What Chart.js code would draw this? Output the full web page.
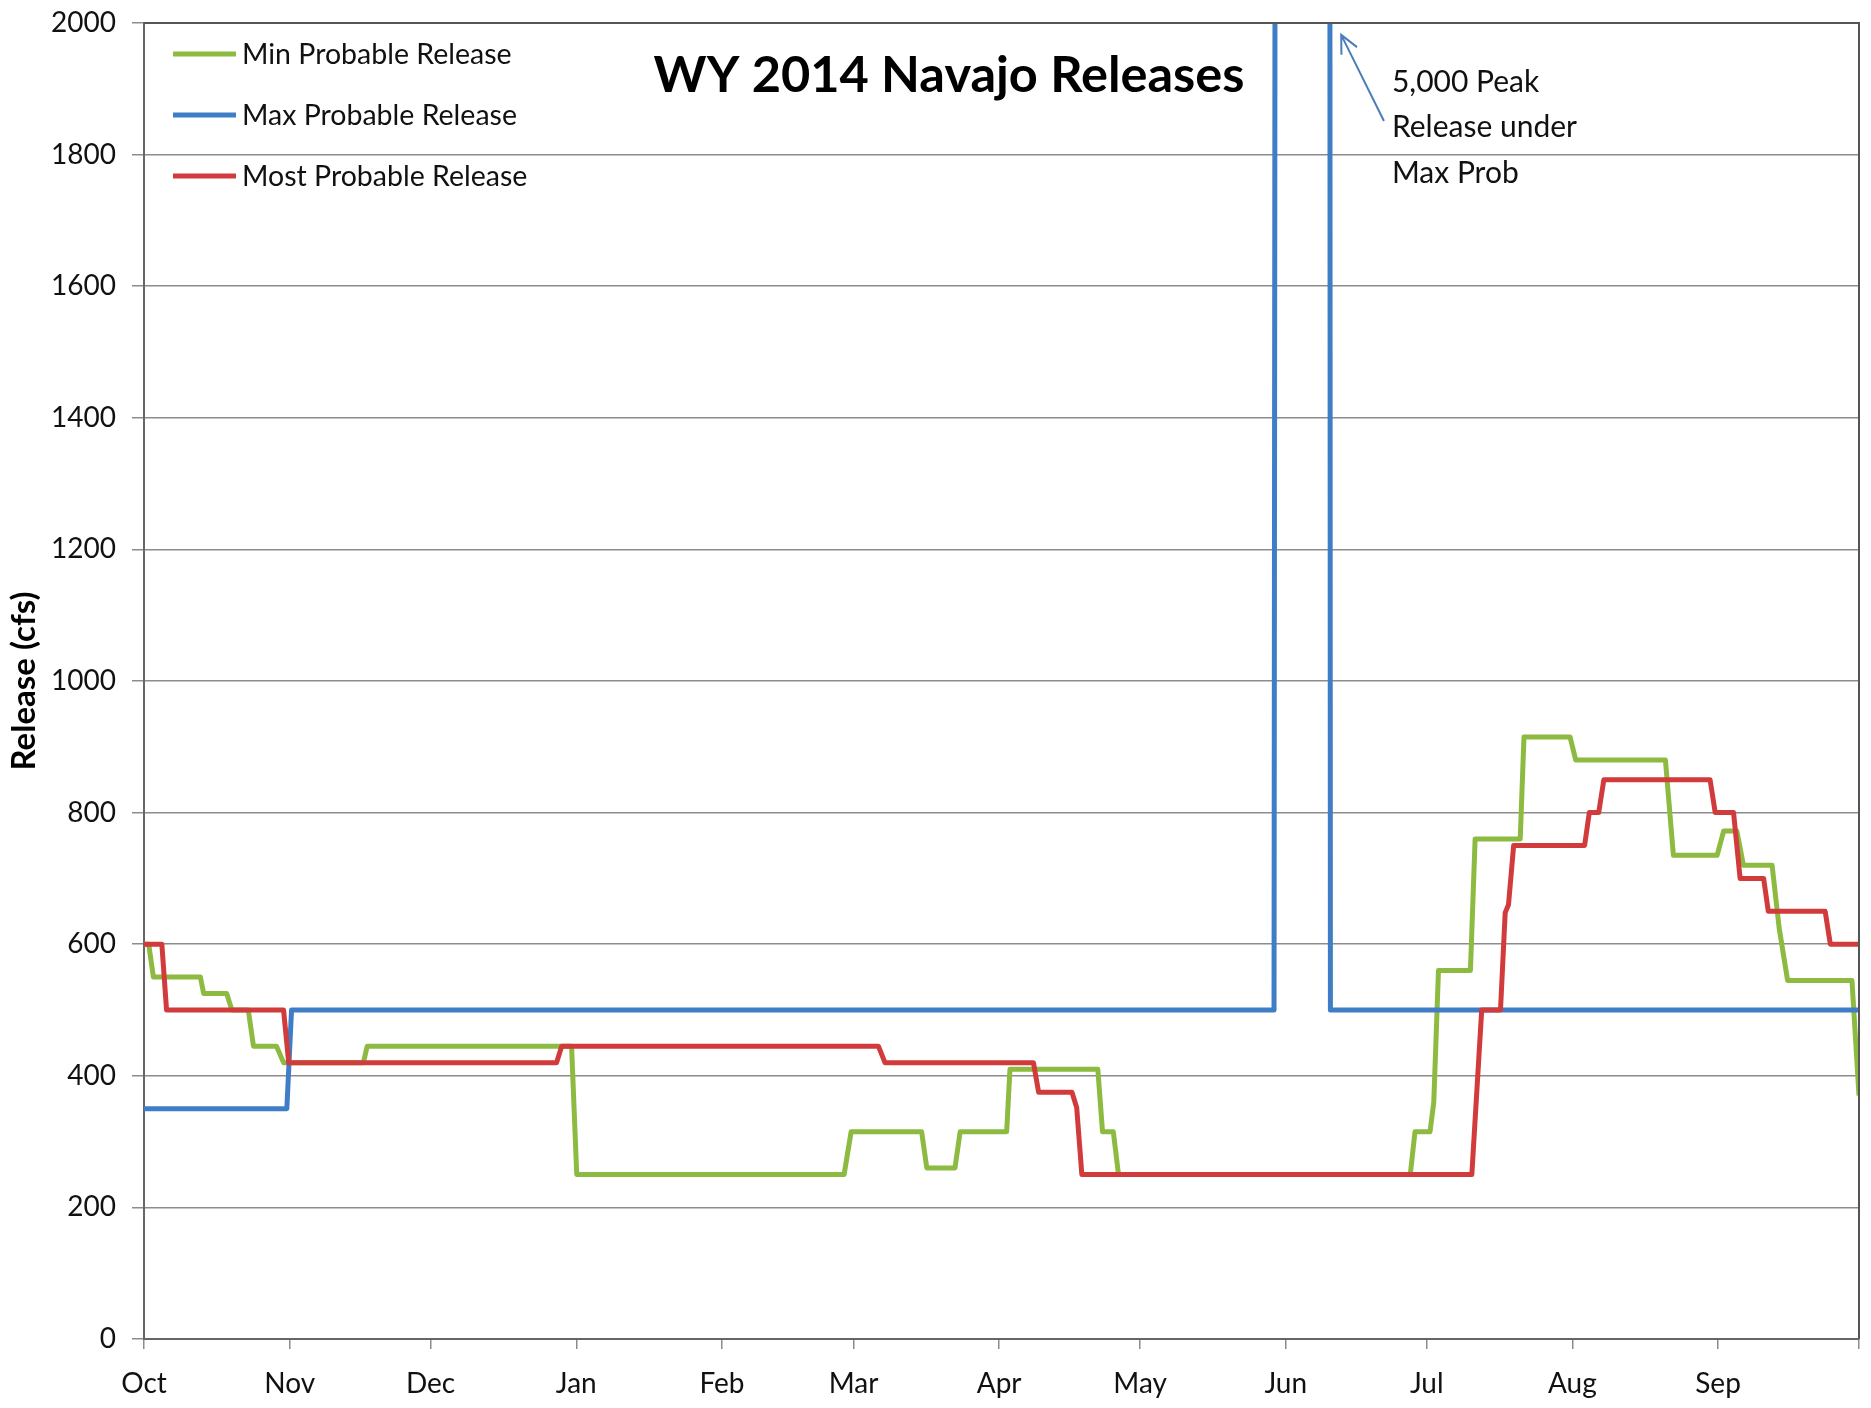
<!DOCTYPE html>
<html>
<head>
<meta charset="utf-8">
<title>WY 2014 Navajo Releases</title>
<script src="https://cdn.jsdelivr.net/npm/chart.js@4.4.1/dist/chart.umd.min.js"></script>
<style>
    html, body { margin: 0; padding: 0; background: #fff; }
    #wrap { width: 1871px; height: 1408px; position: relative; }
</style>
</head>
<body>
<div id="wrap"><canvas id="js--chart"></canvas></div>
<script>
// x axis = days since 1 Oct 2013 (water year 2014)
const monthLabels = ["Oct", "Nov", "Dec", "Jan", "Feb", "Mar", "Apr", "May", "Jun", "Jul", "Aug", "Sep"];
const monthStartDays = [0, 31, 61, 92, 123, 151, 182, 212, 243, 273, 304, 335, 365];
const yTickValues = [0, 200, 400, 600, 800, 1000, 1200, 1400, 1600, 1800, 2000];

// Min Probable Release (cfs) at each change
const minDays = [0, 1, 2, 12, 12.7, 17.6, 18.7, 22.2, 23.3, 28.2, 29.7, 46.7, 47.5, 91, 92.1,
    149, 150.5, 165.5, 166.6, 172.6, 173.7, 183.6, 184.3, 203, 204, 206.3, 207.4,
    269.5, 270.5, 273.7, 274.5, 275.5, 282.3, 283.3, 292.9, 293.7, 303.5, 304.7,
    323.8, 325.5, 334.8, 336.2, 339, 340.4, 346.5, 348, 349.8, 363.5, 365];
const minValues = [600, 600, 550, 550, 525, 525, 500, 500, 445, 445, 420, 420, 445, 445, 250,
    250, 315, 315, 260, 260, 315, 315, 410, 410, 315, 315, 250,
    250, 315, 315, 360, 560, 560, 760, 760, 915, 915, 880,
    880, 735, 735, 772, 772, 720, 720, 625, 545, 545, 370];

// Max Probable Release (cfs) - peak of 5,000 runs off the top
const maxDays = [0, 30.4, 31.4, 240.5, 241.1, 252.2, 252.5, 365];
const maxValues = [350, 350, 500, 500, 5000, 5000, 500, 500];

// Most Probable Release (cfs)
const mostDays = [0, 3.8, 4.8, 29.7, 30.8, 87.8, 88.9, 156.3, 157.7, 189.3, 190.4, 197.5, 198.5, 199.6,
    282.6, 284.7, 288.7, 289.7, 290.4, 291.5, 306.6, 307.6, 309.6, 310.7, 333.3, 334.4,
    338.3, 339.7, 344.7, 345.7, 357.8, 358.9, 365];
const mostValues = [600, 600, 500, 500, 420, 420, 445, 445, 420, 420, 375, 375, 352, 250,
    250, 500, 500, 648, 660, 750, 750, 800, 800, 850, 850, 800,
    800, 700, 700, 650, 650, 600, 600];

const seriesNames = ["Min Probable Release", "Max Probable Release", "Most Probable Release"];
const seriesColors = ["#8DBA40", "#3F7EC6", "#D23B3B"];

// where the note about the 5,000 peak sits (in axis units)
const noteLines = ["5,000 Peak", "Release under", "Max Prob"];
const noteDay = 265.6;
const noteValues = [1910, 1842, 1772];
const arrowFrom = { x: 263.9, y: 1851 };
const arrowTo = { x: 254.8, y: 1982 };

function toPoints(days, values) {
    return days.map(function (d, i) { return { x: d, y: values[i] }; });
}

const FONT = "Lato";

const decorations = {
    id: "decorations",
    afterDatasetsDraw(chart) {
        const ctx = chart.ctx;
        const a = chart.chartArea;
        const xs = chart.scales.x;
        const ys = chart.scales.y;
        ctx.save();

        // frame on top and right
        ctx.strokeStyle = "#555";
        ctx.lineWidth = 2;
        ctx.beginPath();
        ctx.moveTo(a.left, a.top);
        ctx.lineTo(a.right, a.top);
        ctx.lineTo(a.right, a.bottom);
        ctx.stroke();

        // legend, top left inside the plot
        ctx.font = "28.5px " + FONT;
        ctx.textBaseline = "middle";
        ctx.textAlign = "left";
        for (let i = 0; i < seriesNames.length; i++) {
            const y = a.top + 31 + i * 61;
            ctx.strokeStyle = seriesColors[i];
            ctx.lineWidth = 5;
            ctx.beginPath();
            ctx.moveTo(a.left + 29, y);
            ctx.lineTo(a.left + 92, y);
            ctx.stroke();
            ctx.fillStyle = "#111";
            ctx.fillText(seriesNames[i], a.left + 98, y + 1);
        }

        // title
        ctx.font = "bold 50.5px " + FONT;
        ctx.textAlign = "center";
        ctx.fillStyle = "#000";
        ctx.fillText("WY 2014 Navajo Releases", a.left + 805, a.top + 53);

        // note + arrow
        ctx.font = "30px " + FONT;
        ctx.textAlign = "left";
        ctx.fillStyle = "#111";
        noteLines.forEach(function (t, i) {
            ctx.fillText(t, xs.getPixelForValue(noteDay), ys.getPixelForValue(noteValues[i]));
        });
        const x1 = xs.getPixelForValue(arrowFrom.x), y1 = ys.getPixelForValue(arrowFrom.y);
        const x2 = xs.getPixelForValue(arrowTo.x), y2 = ys.getPixelForValue(arrowTo.y);
        const ang = Math.atan2(y2 - y1, x2 - x1);
        ctx.strokeStyle = "#4A7EBB";
        ctx.lineWidth = 2;
        ctx.beginPath();
        ctx.moveTo(x1, y1);
        ctx.lineTo(x2, y2);
        ctx.moveTo(x2 - 20 * Math.cos(ang - 0.45), y2 - 20 * Math.sin(ang - 0.45));
        ctx.lineTo(x2, y2);
        ctx.lineTo(x2 - 20 * Math.cos(ang + 0.45), y2 - 20 * Math.sin(ang + 0.45));
        ctx.stroke();

        ctx.restore();
    }
};

const data = {
    datasets: [
        {
            label: seriesNames[0],
            data: toPoints(minDays, minValues),
            borderColor: seriesColors[0],
            order: 3
        },
        {
            label: seriesNames[1],
            data: toPoints(maxDays, maxValues),
            borderColor: seriesColors[1],
            order: 2
        },
        {
            label: seriesNames[2],
            data: toPoints(mostDays, mostValues),
            borderColor: seriesColors[2],
            order: 1
        }
    ]
};

const config = {
    type: "line",
    data: data,
    options: {
        responsive: true,
        maintainAspectRatio: false,
        animation: false,
        devicePixelRatio: 1,
        layout: { padding: { top: 23, right: 12, left: 0, bottom: 0 } },
        elements: {
            point: { radius: 0, hoverRadius: 0 },
            line: { borderWidth: 5, tension: 0, borderJoinStyle: "round", fill: false }
        },
        plugins: {
            legend: { display: false },
            tooltip: { enabled: false }
        },
        scales: {
            x: {
                type: "linear",
                min: 0,
                max: 365,
                afterBuildTicks: function (scale) {
                    scale.ticks = monthStartDays.map(function (v) { return { value: v }; });
                },
                afterFit: function (scale) {
                    scale.height = 69;
                    scale.paddingLeft = 0;
                    scale.paddingRight = 0;
                },
                grid: { drawOnChartArea: false, drawTicks: true, tickLength: 10, color: "#8c8c8c", lineWidth: 1.5 },
                border: { color: "#666", width: 2 },
                ticks: {
                    autoSkip: false,
                    maxRotation: 0,
                    padding: 18,
                    color: "#111",
                    font: { family: FONT, size: 28 },
                    callback: function (value) {
                        const i = monthStartDays.indexOf(value);
                        return (i >= 0 && i < monthLabels.length) ? monthLabels[i] : "";
                    }
                }
            },
            y: {
                min: 0,
                max: 2000,
                afterBuildTicks: function (scale) {
                    scale.ticks = yTickValues.map(function (v) { return { value: v }; });
                },
                afterFit: function (scale) {
                    scale.width = 144;
                    scale.paddingTop = 0;
                    scale.paddingBottom = 0;
                },
                grid: { color: "#8c8c8c", lineWidth: 1.5, tickLength: 12 },
                border: { color: "#666", width: 2 },
                ticks: {
                    padding: 16,
                    color: "#111",
                    font: { family: FONT, size: 28 },
                    callback: function (value) { return String(value); }
                },
                title: {
                    display: true,
                    text: "Release (cfs)",
                    color: "#000",
                    font: { family: FONT, size: 33, weight: "bold" },
                    padding: { top: 5, bottom: 0 }
                }
            }
        }
    },
    plugins: [decorations]
};

new Chart(document.getElementById("js--chart"), config);
</script>
</body>
</html>
